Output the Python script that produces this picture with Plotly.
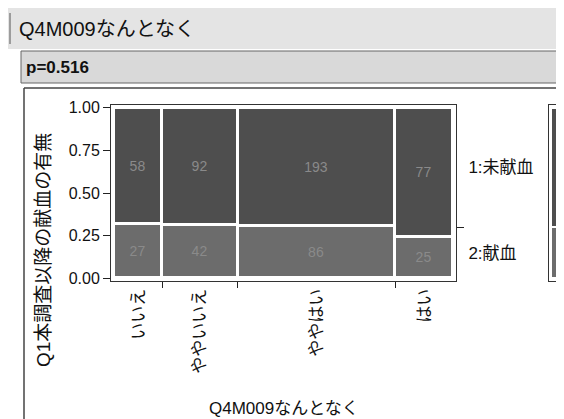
import plotly.graph_objects as go

# ---- data ----
categories = ["いいえ", "ややいいえ", "ややはい", "はい"]
not_donated = [58, 92, 193, 77]   # 1:未献血 (upper cells)
donated = [27, 42, 86, 25]        # 2:献血 (lower cells)
levels_top_bottom = ["1:未献血", "2:献血"]
y_ticks = [0.0, 0.25, 0.50, 0.75, 1.00]
y_tick_text = ["0.00", "0.25", "0.50", "0.75", "1.00"]
p_text = "p=0.516"
chart_title = "Q4M009なんとなく"
x_title = "Q4M009なんとなく"
y_title = "Q1本調査以降の献血の有無"

# ---- derived mosaic geometry (from data) ----
totals = [a + b for a, b in zip(not_donated, donated)]
N = sum(totals)
widths = [t / N for t in totals]
lefts = []
acc = 0.0
for w in widths:
    lefts.append(acc)
    acc += w
centers = [l + w / 2 for l, w in zip(lefts, widths)]
boundaries = lefts[1:]
p_don = [d / t for d, t in zip(donated, totals)]
p_not = [n / t for n, t in zip(not_donated, totals)]
overall_don = sum(donated) / N
overall_not = 1 - overall_don

FONT = "Liberation Sans, Arial, Noto Sans CJK JP, sans-serif"
TOP_C = "#4e4e4e"
BOT_C = "#6c6c6c"
NUM_C = "#8a8a8a"

W, H = 564, 419
ML, MR, MT, MB = 103, 7, 97, 146
PW = W - ML - MR
PH = H - MT - MB


def px(x):
    return (x - ML) / PW


def py(y):
    return (H - MB - y) / PH


main_right = px(448)

fig = go.Figure()

fig.add_trace(go.Bar(
    x=centers, y=p_don, base=[0] * len(centers), width=widths,
    marker=dict(color=BOT_C, line=dict(color="white", width=3)),
    text=[str(v) for v in donated], textposition="inside",
    insidetextanchor="middle", textangle=0,
    textfont=dict(color=NUM_C, size=14, family=FONT),
    xaxis="x", yaxis="y", showlegend=False, hoverinfo="skip"))
fig.add_trace(go.Bar(
    x=centers, y=p_not, base=p_don, width=widths,
    marker=dict(color=TOP_C, line=dict(color="white", width=3)),
    text=[str(v) for v in not_donated], textposition="inside",
    insidetextanchor="middle", textangle=0,
    textfont=dict(color=NUM_C, size=14, family=FONT),
    xaxis="x", yaxis="y", showlegend=False, hoverinfo="skip"))

# invisible trace to activate right-side axis
fig.add_trace(go.Scatter(x=[centers[0]], y=[0.5], mode="markers",
                         marker=dict(opacity=0), xaxis="x", yaxis="y2",
                         showlegend=False, hoverinfo="skip"))

# legend bar (overall proportions)
fig.add_trace(go.Bar(x=[0], y=[overall_don], base=[0], width=[1],
                     marker=dict(color=BOT_C, line=dict(color="white", width=2)),
                     xaxis="x3", yaxis="y3", showlegend=False, hoverinfo="skip"))
fig.add_trace(go.Bar(x=[0], y=[overall_not], base=[overall_don], width=[1],
                     marker=dict(color=TOP_C, line=dict(color="white", width=2)),
                     xaxis="x3", yaxis="y3", showlegend=False, hoverinfo="skip"))

yr = [-0.015, 1.015]

fig.update_layout(
    width=W, height=H,
    margin=dict(l=ML, r=MR, t=MT, b=MB, pad=0),
    paper_bgcolor="white", plot_bgcolor="white",
    barmode="overlay", bargap=0,
    font=dict(family=FONT, color="#111111"),
    xaxis=dict(domain=[0, main_right], range=[-0.009, 1.009], anchor="y",
               tickmode="array", tickvals=centers, ticktext=categories,
               tickangle=-90, ticks="outside", ticklen=0,
               minor=dict(tickmode="array", tickvals=boundaries, ticks="outside",
                          ticklen=6, tickcolor="#222", tickwidth=1),
               tickfont=dict(size=17, family=FONT),
               showline=True, linecolor="#333", linewidth=1, mirror=True,
               showgrid=False, zeroline=False, fixedrange=True),
    yaxis=dict(domain=[0, 1], range=yr, anchor="x",
               tickmode="array", tickvals=y_ticks, ticktext=y_tick_text,
               ticks="outside", ticklen=7, tickcolor="#222",
               tickfont=dict(size=16, family=FONT),
               showline=True, linecolor="#333", linewidth=1, mirror=True,
               showgrid=False, zeroline=False),
    yaxis2=dict(overlaying="y", side="right", anchor="x", range=yr,
                tickmode="array",
                tickvals=[(1 + overall_don) / 2, overall_don / 2],
                ticktext=levels_top_bottom,
                ticks="outside", ticklen=0, ticklabelstandoff=8,
                minor=dict(tickmode="array", tickvals=[overall_don],
                           ticks="outside", ticklen=7, tickcolor="#222"),
                tickfont=dict(size=17, family=FONT),
                showline=False, showgrid=False, zeroline=False),
    xaxis3=dict(domain=[px(541), px(556)], range=[-0.65, 0.65], anchor="y3",
                showticklabels=False, ticks="", showline=True, linecolor="#333",
                mirror=True, showgrid=False, zeroline=False),
    yaxis3=dict(domain=[0, 1], range=yr, anchor="x3",
                showticklabels=False, ticks="", showline=True, linecolor="#333",
                mirror=True, showgrid=False, zeroline=False),
)

shapes = [
    # header band
    dict(type="rect", xref="paper", yref="paper", x0=px(0), x1=px(W),
         y0=py(41), y1=py(0), fillcolor="#e4e4e4", line=dict(width=0), layer="below"),
    dict(type="line", xref="paper", yref="paper", x0=px(2), x1=px(2),
         y0=py(36), y1=py(5), line=dict(color="#555", width=1)),
    # p-value band
    dict(type="rect", xref="paper", yref="paper", x0=px(13), x1=px(W + 5),
         y0=py(75), y1=py(43), fillcolor="#d9d9d9",
         line=dict(color="#666", width=1), layer="below"),
    # panel border
    dict(type="line", xref="paper", yref="paper", x0=px(16), x1=px(W),
         y0=py(80), y1=py(80), line=dict(color="#444", width=1.5)),
    dict(type="line", xref="paper", yref="paper", x0=px(16), x1=px(16),
         y0=py(H), y1=py(80), line=dict(color="#444", width=1.5)),
]
fig.update_layout(shapes=shapes)

annotations = [
    dict(text=chart_title, xref="paper", yref="paper", x=px(9), y=py(21),
         xanchor="left", yanchor="middle", showarrow=False,
         font=dict(size=20, family=FONT, color="#111")),
    dict(text="<b>" + p_text + "</b>", xref="paper", yref="paper", x=px(16), y=py(59),
         xanchor="left", yanchor="middle", showarrow=False,
         font=dict(size=17, family=FONT, color="#111")),
    dict(text=y_title, xref="paper", yref="paper", x=px(35), y=py(242),
         xanchor="center", yanchor="middle", textangle=-90, showarrow=False,
         font=dict(size=19, family=FONT, color="#111")),
    dict(text=x_title, xref="paper", yref="paper", x=px(276), y=py(400),
         xanchor="center", yanchor="middle", showarrow=False,
         font=dict(size=17, family=FONT, color="#111")),
]
fig.update_layout(annotations=annotations)

fig.write_html("out.html")
